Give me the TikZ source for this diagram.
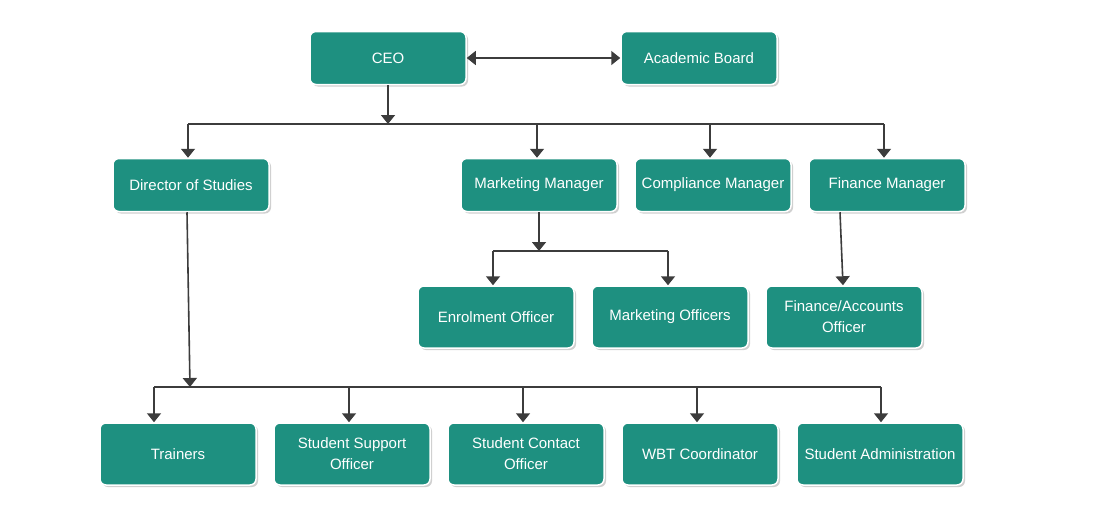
\documentclass[tikz,border=0pt]{standalone}
\usepackage{fontspec}
\setmainfont{Liberation Sans}
\usetikzlibrary{arrows.meta,shadows,calc}
\definecolor{boxfill}{HTML}{1E9080}
\definecolor{linec}{HTML}{3C3C3C}
\begin{document}
\begin{tikzpicture}[x=1pt,y=-1pt,
  box/.style={rectangle,rounded corners=6pt,fill=boxfill,draw=white,line width=1.5pt,
    minimum width=156pt,minimum height=53pt,inner sep=2pt,text=white,align=center,
    font=\fontsize{15}{21}\selectfont,
    drop shadow={shadow xshift=2pt,shadow yshift=-2pt,fill=black!30,opacity=0.6}},
  tall/.style={minimum height=62pt},
  conn/.style={draw=linec,line width=1.6pt},
  arr/.style={conn,-{Triangle[length=9pt,width=14pt]}},
  darr/.style={conn,{Triangle[length=9pt,width=14pt]}-{Triangle[length=9pt,width=14pt]}}]
\useasboundingbox[fill=white] (0,0) rectangle (1098,525);
% nodes
\node[box] (ceo) at (388,58) {CEO};
\node[box] (ab) at (699,58) {Academic Board};
\node[box] (dos) at (191,185) {Director of Studies};
\node[box] (mm) at (539,185) {Marketing Manager};
\node[box] (cm) at (713,185) {Compliance Manager};
\node[box] (fm) at (887,185) {Finance Manager};
\node[box,tall] (eo) at (496,317) {Enrolment Officer};
\node[box,tall] (mo) at (670,317) {Marketing Officers};
\node[box,tall] (fa) at (844,317) {Finance/Accounts\\Officer};
\node[box,tall] (tr) at (178,454) {Trainers};
\node[box,tall] (sso) at (352,454) {Student Support\\Officer};
\node[box,tall] (sco) at (526,454) {Student Contact\\Officer};
\node[box,tall] (wbt) at (700,454) {WBT Coordinator};
\node[box,tall,minimum width=166pt] (sa) at (880,454) {Student Administration};
% bus coordinates
\coordinate (b1) at (388,124);
\coordinate (b1l) at (188,124);
\coordinate (b1r) at (884,124);
\coordinate (b1m) at (537,124);
\coordinate (b1c) at (710,124);
\coordinate (b2) at (539,251);
\coordinate (b2l) at (493,251);
\coordinate (b2r) at (668,251);
\coordinate (b3) at (190,387);
\coordinate (b3l) at (154,387);
\coordinate (b3r) at (881,387);
\coordinate (b3a) at (349,387);
\coordinate (b3b) at (523,387);
\coordinate (b3c) at (697,387);
% connectors
\draw[darr] (ceo.east) -- (ab.west);
\draw[arr] (ceo.south) -- (b1);
\draw[conn] (b1l) -- (b1r);
\draw[arr] (b1l) -- (b1l |- dos.north);
\draw[arr] (b1m) -- (b1m |- mm.north);
\draw[arr] (b1c) -- (b1c |- cm.north);
\draw[arr] (b1r) -- (b1r |- fm.north);
\draw[arr] (mm.south) -- (b2);
\draw[conn] (b2l) -- (b2r);
\draw[arr] (b2l) -- (b2l |- eo.north);
\draw[arr] (b2r) -- (b2r |- mo.north);
\draw[arr] ([xshift=-47pt]fm.south) -- ([xshift=-1pt]fa.north);
\draw[arr] ([xshift=-4pt]dos.south) -- (b3);
\draw[conn] (b3l) -- (b3r);
\draw[arr] (b3l) -- (b3l |- tr.north);
\draw[arr] (b3a) -- (b3a |- sso.north);
\draw[arr] (b3b) -- (b3b |- sco.north);
\draw[arr] (b3c) -- (b3c |- wbt.north);
\draw[arr] (b3r) -- (b3r |- sa.north);
\end{tikzpicture}
\end{document}
